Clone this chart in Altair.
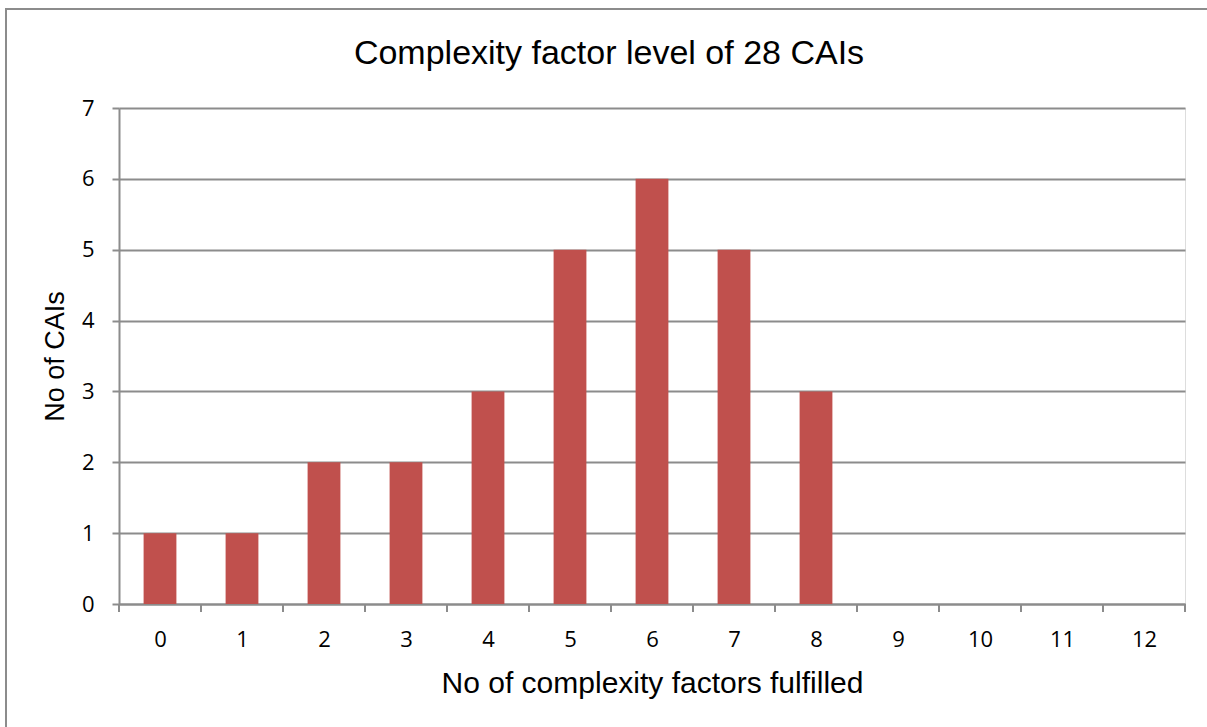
import altair as alt
import pandas as pd

# Number of complexity factors fulfilled and how many CAIs reached each level
factors = [0, 1, 2, 3, 4, 5, 6, 7, 8, 9, 10, 11, 12]
cai_counts = [1, 1, 2, 2, 3, 5, 6, 5, 3, 0, 0, 0, 0]

df = pd.DataFrame({"factors": factors, "count": cai_counts})

W, H = 1066, 496
PAD_L, PAD_T, PAD_R, PAD_B = 119, 108, 22, 123

GRID = "#8c8c8c"
LABEL_FONT = "Open Sans"
TITLE_FONT = "Liberation Sans"

x_scale = alt.Scale(domain=[-0.5, 12.5], nice=False, zero=False)
y_scale = alt.Scale(domain=[0, 7], nice=False)

x_axis = alt.Axis(
    title="No of complexity factors fulfilled",
    titleFont=TITLE_FONT,
    titleFontSize=30,
    titleFontWeight="normal",
    titleColor="black",
    titlePadding=18,
    values=factors,
    format="d",
    labelAngle=0,
    labelFont=LABEL_FONT,
    labelFontSize=22,
    labelColor="black",
    labelPadding=25,
    ticks=False,
    domainColor=GRID,
    domainWidth=2,
    grid=False,
)

y_axis = alt.Axis(
    title="No of CAIs",
    titleFont=TITLE_FONT,
    titleFontSize=27,
    titleFontWeight="normal",
    titleColor="black",
    titlePadding=12,
    values=list(range(0, 8)),
    format="d",
    labelFont=LABEL_FONT,
    labelFontSize=22,
    labelColor="black",
    labelPadding=18,
    tickColor=GRID,
    tickSize=7,
    tickWidth=2,
    domainColor=GRID,
    domainWidth=2,
    grid=True,
    gridColor=GRID,
    gridWidth=2,
)

base = alt.Chart(df).transform_calculate(
    left="datum.factors - 0.2",
    right="datum.factors + 0.2",
    lo_edge="datum.factors - 0.5",
    hi_edge="datum.factors + 0.5",
)

bars = base.mark_bar(color="#C0504D").encode(
    x=alt.X("left:Q", scale=x_scale, axis=x_axis),
    x2="right:Q",
    y=alt.Y("count:Q", scale=y_scale, axis=y_axis),
    y2=alt.datum(0),
)

# Category separator ticks below the x axis
ticks_lo = base.mark_rule(color=GRID, strokeWidth=2).encode(
    x=alt.X("lo_edge:Q", scale=x_scale),
    y=alt.value(H),
    y2=alt.value(H + 8),
)
ticks_hi = base.mark_rule(color=GRID, strokeWidth=2).encode(
    x=alt.X("hi_edge:Q", scale=x_scale),
    y=alt.value(H),
    y2=alt.value(H + 8),
)

one = pd.DataFrame({"t": ["Complexity factor level of 28 CAIs"]})

title = alt.Chart(one).mark_text(
    font=TITLE_FONT, fontSize=34, color="black", align="center", baseline="middle"
).encode(
    text="t:N",
    x=alt.value(609 - PAD_L),
    y=alt.value(54 - PAD_T),
)

# Light frame around the whole chart
frame = alt.Chart(one).mark_rect(
    fill=None, stroke="#8c8c8c", strokeWidth=2, clip=False
).encode(
    x=alt.value(6 - PAD_L),
    x2=alt.value(W + PAD_R + 20),
    y=alt.value(9 - PAD_T),
    y2=alt.value(H + PAD_B + 20),
)

chart = (
    alt.layer(bars, ticks_lo, ticks_hi, title, frame)
    .properties(
        width=W,
        height=H,
        autosize=alt.AutoSizeParams(type="none"),
        padding={"left": PAD_L, "top": PAD_T, "right": PAD_R, "bottom": PAD_B},
    )
    .configure_view(stroke=None)
    .configure(background="white")
)

chart.save("out.html", embed_options={"renderer": "svg", "actions": False})
